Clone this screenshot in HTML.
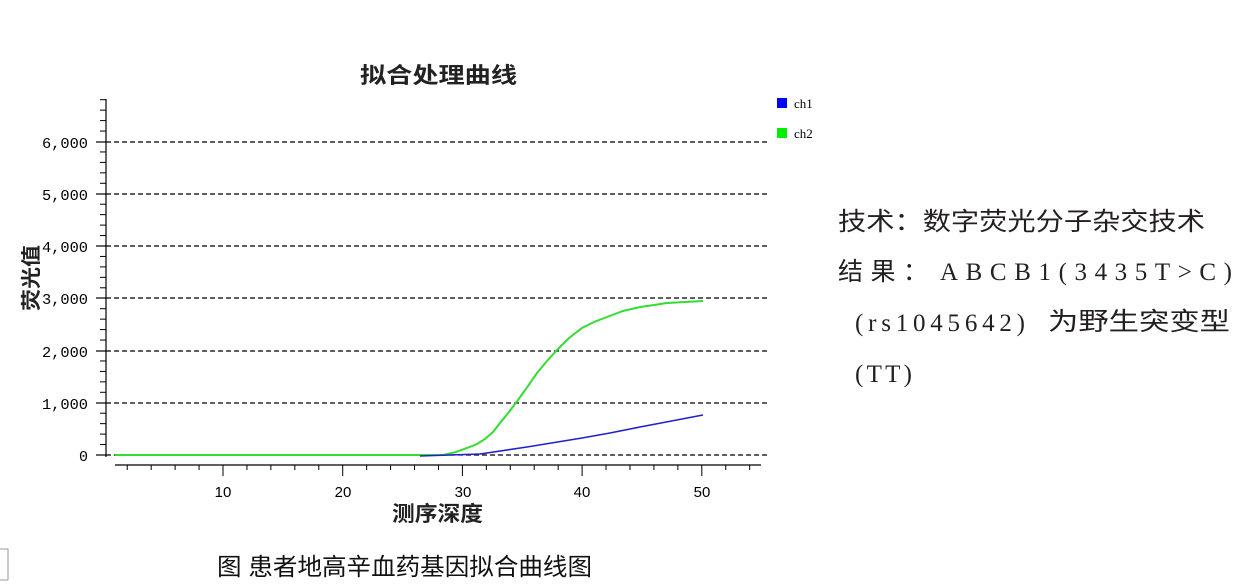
<!DOCTYPE html>
<html><head><meta charset="utf-8"><style>
html,body{margin:0;padding:0;background:#fff;width:1248px;height:586px;overflow:hidden}
</style></head><body>
<svg width="1248" height="586" viewBox="0 0 1248 586" xmlns="http://www.w3.org/2000/svg">
<rect width="1248" height="586" fill="#fff"/>
<text x="360" y="83" textLength="157" lengthAdjust="spacingAndGlyphs" font-family="'Liberation Sans','Noto Sans CJK SC',sans-serif" font-size="22" font-weight="bold" fill="#222">拟合处理曲线</text>
<g stroke="#000" stroke-width="1.2" stroke-dasharray="5,3">
<line x1="106" y1="142" x2="767" y2="142"/>
<line x1="106" y1="194" x2="767" y2="194"/>
<line x1="106" y1="246" x2="767" y2="246"/>
<line x1="106" y1="298" x2="767" y2="298"/>
<line x1="106" y1="351" x2="767" y2="351"/>
<line x1="106" y1="403" x2="767" y2="403"/>
<line x1="106" y1="455" x2="767" y2="455"/>
</g>
<g stroke="#000" stroke-width="1.2">
<line x1="106" y1="99" x2="106" y2="457"/>
<line x1="96" y1="142" x2="106" y2="142"/>
<line x1="96" y1="194" x2="106" y2="194"/>
<line x1="96" y1="246" x2="106" y2="246"/>
<line x1="96" y1="298" x2="106" y2="298"/>
<line x1="96" y1="351" x2="106" y2="351"/>
<line x1="96" y1="403" x2="106" y2="403"/>
<line x1="96" y1="455" x2="106" y2="455"/>
</g>
<g stroke="#000" stroke-width="1" id="ymin"></g>
<g font-family="'Liberation Mono',monospace" font-size="15" fill="#000">
<text x="42" y="148" textLength="46" lengthAdjust="spacingAndGlyphs">6,000</text>
<text x="42" y="200" textLength="46" lengthAdjust="spacingAndGlyphs">5,000</text>
<text x="42" y="252" textLength="46" lengthAdjust="spacingAndGlyphs">4,000</text>
<text x="42" y="304" textLength="46" lengthAdjust="spacingAndGlyphs">3,000</text>
<text x="42" y="357" textLength="46" lengthAdjust="spacingAndGlyphs">2,000</text>
<text x="42" y="409" textLength="46" lengthAdjust="spacingAndGlyphs">1,000</text>
<text x="79" y="461">0</text>
</g>
<text transform="translate(38,278) rotate(-90)" textLength="66" lengthAdjust="spacingAndGlyphs" font-family="'Liberation Sans','Noto Sans CJK SC',sans-serif" font-size="20" font-weight="bold" text-anchor="middle" fill="#222">荧光值</text>
<g stroke="#000" stroke-width="1.2"><line x1="115" y1="465" x2="761" y2="465"/></g>
<g stroke="#000" stroke-width="1" id="xt"></g>
<g font-family="'Liberation Sans',sans-serif" font-size="15" fill="#000" text-anchor="middle">
<text x="223" y="497">10</text><text x="343" y="497">20</text><text x="463" y="497">30</text><text x="582" y="497">40</text><text x="702" y="497">50</text>
</g>
<text x="392" y="521" textLength="91" lengthAdjust="spacingAndGlyphs" font-family="'Liberation Sans','Noto Sans CJK SC',sans-serif" font-size="21" font-weight="bold" fill="#222">测序深度</text>
<polyline fill="none" stroke="#33dd33" stroke-width="2" points="115,455 443,455 456,452 467,448 477,444 485,439 493,432 500,423 509,412 518,400 528,386 537,373 547,361 557,350 569,338 582,328 594,322 607,317 623,311 640,307 654,305 667,303 685,302 703,301"/>
<polyline fill="none" stroke="#2020cc" stroke-width="1.6" points="420,456 480,454 527,447 582,438 610,433 640,427 703,415"/>
<rect x="777" y="98" width="10" height="10" fill="#0000ff"/>
<text x="794" y="108" font-family="'Liberation Serif',serif" font-size="13" fill="#000">ch1</text>
<rect x="777" y="128" width="10" height="10" fill="#00ee00"/>
<text x="794" y="138" font-family="'Liberation Serif',serif" font-size="13" fill="#000">ch2</text>
<g font-family="'Liberation Serif','Noto Sans CJK SC',serif" font-size="25" fill="#231f20">
<text x="838" y="230" textLength="367" lengthAdjust="spacingAndGlyphs" font-family="'Noto Sans CJK SC',sans-serif">技术：数字荧光分子杂交技术</text>
<text x="838" y="280" textLength="90" lengthAdjust="spacing" font-family="'Noto Sans CJK SC',sans-serif">结果：</text>
<text x="940" y="280" textLength="292" lengthAdjust="spacing">ABCB1(3435T&gt;C)</text>
<text x="855" y="331" textLength="170" lengthAdjust="spacing">(rs1045642)</text>
<text x="1048" y="330" textLength="182" lengthAdjust="spacingAndGlyphs" font-family="'Noto Sans CJK SC',sans-serif">为野生突变型</text>
<text x="855" y="382" textLength="57" lengthAdjust="spacing">(TT)</text>
</g>
<text x="217" y="575" textLength="375" lengthAdjust="spacingAndGlyphs" font-family="'Liberation Sans','Noto Sans CJK SC',sans-serif" font-size="24" fill="#111">图 患者地高辛血药基因拟合曲线图</text>
<path d="M0,549 H8 V580 H0" fill="none" stroke="#999" stroke-width="1"/>
<script>
var ns="http://www.w3.org/2000/svg";
var g=document.getElementById('ymin');
for(var v=0;v<=6800;v+=200){if(v%1000==0)continue;var y=455-v*0.05225;var l=document.createElementNS(ns,'line');l.setAttribute('x1',100);l.setAttribute('x2',106);l.setAttribute('y1',y);l.setAttribute('y2',y);g.appendChild(l);}
var gx=document.getElementById('xt');
for(var u=2;u<=54;u+=2){var x=103.3+u*11.97;var big=(u%10==0);var l=document.createElementNS(ns,'line');l.setAttribute('x1',x);l.setAttribute('x2',x);l.setAttribute('y1',465);l.setAttribute('y2',big?476:470);gx.appendChild(l);}
</script>
</svg>
</body></html>
